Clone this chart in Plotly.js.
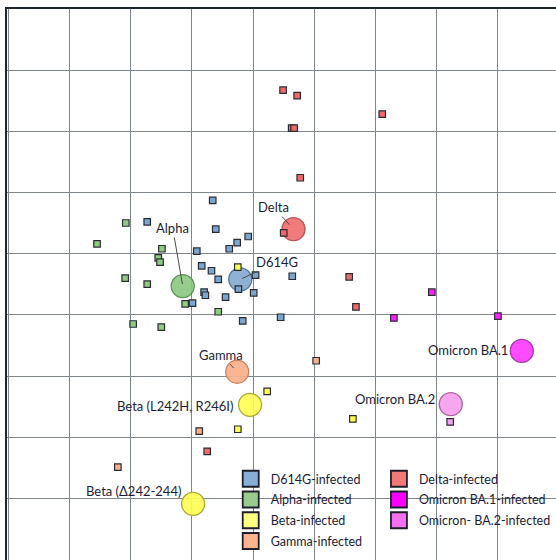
<!DOCTYPE html>
<html>
<head>
<meta charset="utf-8">
<script src="https://cdn.plot.ly/plotly-3.0.1.min.js"></script>
<style>
  html, body { margin: 0; padding: 0; background: #ffffff; overflow: hidden; }
  #chart { width: 556px; height: 560px; }
</style>
</head>
<body>
<div id="chart"></div>
<script>
// ---- Data (antigenic map units) ----
// Antigens (large circles)
const antigenNames = ["D614G", "Alpha", "Delta", "Gamma", "Beta (L242H, R246I)", "Beta (Δ242-244)", "Omicron BA.1", "Omicron BA.2"];
const antigenX = [3.79, 2.85, 4.66, 3.74, 3.95, 3.02, 8.39, 7.23];
const antigenY = [4.42, 4.53, 3.60, 5.93, 6.47, 8.09, 5.59, 6.46];

// Sera (small squares)
const d614gX = [2.27, 3.34, 3.39, 3.92, 3.74, 3.61, 3.08, 3.16, 3.32, 3.43, 4.04, 4.64, 3.76, 3.20, 3.22, 3.55, 4.01, 3.01, 3.83, 4.45];
const d614gY = [3.48, 3.13, 3.60, 3.72, 3.82, 3.92, 3.96, 4.20, 4.28, 4.42, 4.35, 4.37, 4.58, 4.63, 4.68, 4.71, 4.64, 4.81, 5.10, 5.04];

const alphaX = [1.92, 1.45, 2.51, 2.45, 2.48, 1.91, 2.27, 2.89, 2.04, 2.50, 3.43];
const alphaY = [3.50, 3.84, 3.92, 4.07, 4.14, 4.40, 4.50, 4.82, 5.15, 5.20, 4.95];

const betaX = [3.75, 4.23, 3.75, 5.63];
const betaY = [4.22, 6.25, 6.87, 6.70];

const gammaX = [5.03, 3.12, 1.79];
const gammaY = [5.75, 6.90, 7.49];

const deltaX = [4.49, 4.72, 6.11, 4.63, 4.67, 4.77, 4.50, 5.57, 5.68, 3.25];
const deltaY = [1.33, 1.42, 1.72, 1.95, 1.95, 2.76, 3.66, 4.38, 4.87, 7.23];

const ba1X = [6.92, 6.30, 8.00];
const ba1Y = [4.63, 5.05, 5.02];

const ba2X = [7.22];
const ba2Y = [6.75];

const seriesNames = ["D614G-infected", "Alpha-infected", "Beta-infected", "Gamma-infected", "Delta-infected", "Omicron BA.1-infected", "Omicron- BA.2-infected"];

// ---- Styles ----
const txtColor = "#1c1c38";
const fontFam = "Lato, 'Open Sans', sans-serif";

const antigenFill = ["rgba(122,163,204,0.85)", "rgba(140,200,128,0.9)", "rgba(240,108,108,0.9)", "rgba(250,176,138,0.92)",
                     "rgba(255,255,80,0.9)", "rgba(255,255,80,0.9)", "rgba(255,60,255,0.92)", "rgba(246,160,236,0.92)"];
const antigenLine = ["#55799c", "#5f9358", "#b45454", "#c38463", "#a7a73e", "#a7a73e", "#a23aa2", "#a869a0"];

const seriesFill = ["#7ba6cf", "#8fcc7f", "#ffff55", "#f9b08a", "#ee6a6a", "#ff22ff", "#f5a2ea"];
const legendFill = ["#86aed6", "#99cc8c", "#ffff80", "#fbb48f", "#f07a78", "#ff00ff", "#f570ee"];

const seriesX = [d614gX, alphaX, betaX, gammaX, deltaX, ba1X, ba2X];
const seriesY = [d614gY, alphaY, betaY, gammaY, deltaY, ba1Y, ba2Y];

const traces = [];

// antigen circles (drawn first, below sera)
traces.push({
  type: "scatter", mode: "markers",
  x: antigenX, y: antigenY, text: antigenNames,
  hoverinfo: "text",
  showlegend: false,
  marker: { symbol: "circle", size: 23, color: antigenFill, line: { color: antigenLine, width: 1.3 } }
});

// sera squares
for (let i = 0; i < seriesNames.length; i++) {
  traces.push({
    type: "scatter", mode: "markers",
    x: seriesX[i], y: seriesY[i], name: seriesNames[i],
    showlegend: false,
    marker: { symbol: "square", size: 6.5, color: seriesFill[i], line: { color: "#2b2b33", width: 1.2 } }
  });
}

// legend entries
const legendOf = ["legend", "legend", "legend", "legend", "legend2", "legend2", "legend2"];
for (let i = 0; i < seriesNames.length; i++) {
  traces.push({
    type: "scatter", mode: "markers",
    x: [null], y: [null], name: seriesNames[i],
    legend: legendOf[i], legendgroup: "g" + i,
    showlegend: true, hoverinfo: "skip",
    marker: { symbol: "square", size: 16, color: legendFill[i], line: { color: "#1e1e2a", width: 1.8 } }
  });
}

// labels
const annFont = { family: fontFam, size: 13, color: txtColor };
const arrowCfg = [
  { i: 1, ax: -10, ay: -58, standoff: 2 },
  { i: 2, ax: -20, ay: -22, standoff: 6 },
  { i: 0, ax: 37, ay: -17, standoff: 2 },
  { i: 3, ax: -16, ay: -17, standoff: 5 }
];
const plainCfg = [
  { i: 4, xshift: -15, yshift: -1 },
  { i: 5, xshift: -10, yshift: 13 },
  { i: 6, xshift: -12, yshift: 1 },
  { i: 7, xshift: -14, yshift: 5 }
];
const annotations = [];
arrowCfg.forEach(c => {
  annotations.push({
    x: antigenX[c.i], y: antigenY[c.i], xref: "x", yref: "y",
    text: antigenNames[c.i], showarrow: true, arrowhead: 0, arrowwidth: 1,
    arrowcolor: "#4a4a4a", ax: c.ax, ay: c.ay, standoff: c.standoff,
    font: annFont
  });
});
plainCfg.forEach(c => {
  annotations.push({
    x: antigenX[c.i], y: antigenY[c.i], xref: "x", yref: "y",
    text: antigenNames[c.i], showarrow: false,
    xanchor: "right", yanchor: "middle", xshift: c.xshift, yshift: c.yshift,
    font: annFont
  });
});

const legendFont = { family: fontFam, size: 12.5, color: txtColor };

const layout = {
  width: 556, height: 560,
  margin: { l: 7, r: 0, t: 9, b: 0, autoexpand: false },
  paper_bgcolor: "#ffffff", plot_bgcolor: "#ffffff",
  showlegend: true,
  xaxis: {
    range: [-0.021, 8.949], side: "top",
    dtick: 1, tick0: 0, showgrid: true, gridcolor: "#7f878c", gridwidth: 1.3,
    zeroline: false, showticklabels: false, ticks: "",
    showline: true, linecolor: "#1c262c", linewidth: 2, fixedrange: true
  },
  yaxis: {
    range: [9.006, 0.003],
    dtick: 1, tick0: 0, showgrid: true, gridcolor: "#7f878c", gridwidth: 1.3,
    zeroline: false, showticklabels: false, ticks: "",
    showline: true, linecolor: "#1c262c", linewidth: 2, fixedrange: true
  },
  shapes: [{
    type: "rect", xref: "paper", yref: "paper", layer: "between",
    x0: 0.415, x1: 1.0, y0: 0.0073, y1: 0.183,
    fillcolor: "#ffffff", line: { width: 0 }
  }],
  legend: {
    x: 0.4075, y: 0.174, xanchor: "left", yanchor: "top",
    orientation: "v", bgcolor: "rgba(255,255,255,0)", borderwidth: 0,
    font: legendFont, tracegroupgap: 1.5, itemsizing: "trace"
  },
  legend2: {
    x: 0.6775, y: 0.174, xanchor: "left", yanchor: "top",
    orientation: "v", bgcolor: "rgba(255,255,255,0)", borderwidth: 0,
    font: legendFont, tracegroupgap: 1.5, itemsizing: "trace"
  },
  annotations: annotations
};

Plotly.newPlot("chart", traces, layout, { displayModeBar: false, responsive: false });
</script>
</body>
</html>
